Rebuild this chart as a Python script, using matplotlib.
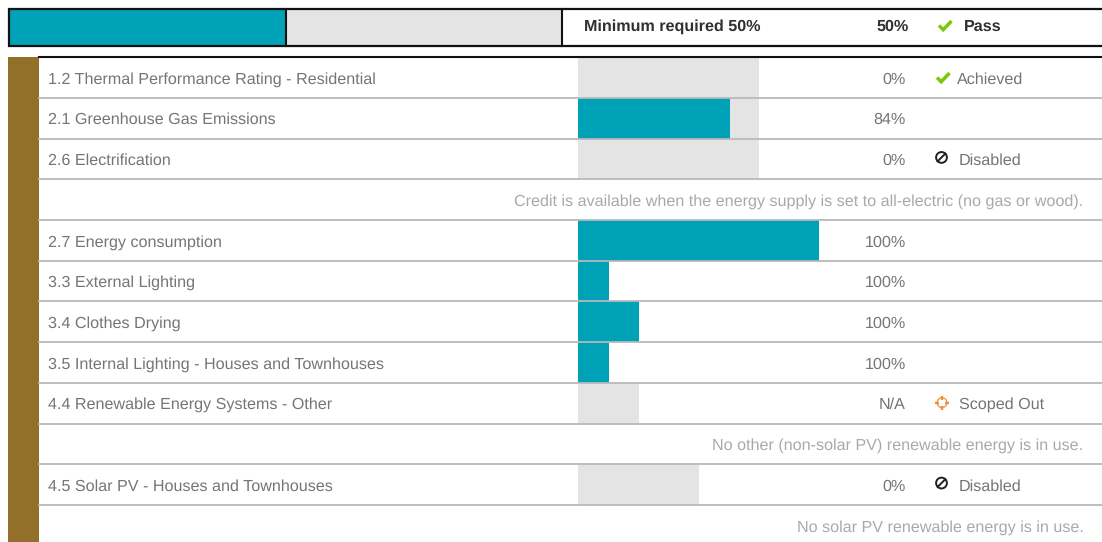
import numpy as np
import matplotlib
matplotlib.use("Agg")
import matplotlib.pyplot as plt
from matplotlib.patches import Rectangle, Circle

plt.rcParams['font.family'] = ['Liberation Sans', 'DejaVu Sans']
plt.rcParams['text.hinting'] = 'no_hinting'

# category summary
summary_text = "Minimum required 50%"
summary_score = 50
summary_status = "Pass"

# credits, in table order. None marks a text-only note row
labels = ["1.2 Thermal Performance Rating - Residential", "2.1 Greenhouse Gas Emissions",
          "2.6 Electrification", None, "2.7 Energy consumption", "3.3 External Lighting",
          "3.4 Clothes Drying", "3.5 Internal Lighting - Houses and Townhouses",
          "4.4 Renewable Energy Systems - Other", None,
          "4.5 Solar PV - Houses and Townhouses", None]
max_points = [6, 6, 6, 0, 8, 1, 2, 1, 2, 0, 4, 0]
scores = [0, 84, 0, None, 100, 100, 100, 100, None, None, 0, None]
score_text = ["0%", "84%", "0%", "", "100%", "100%", "100%", "100%", "N/A", "", "0%", ""]
status = ["Achieved", "", "Disabled", "", "", "", "", "", "Scoped Out", "", "Disabled", ""]
notes = ["", "", "", "Credit is available when the energy supply is set to all-electric (no gas or wood).",
         "", "", "", "", "", "No other (non-solar PV) renewable energy is in use.",
         "", "No solar PV renewable energy is in use."]

TEAL = "#00a2b8"
LIGHT = "#e4e4e4"
BROWN = "#93702a"
RULE = "#b9b9b9"
TEXT = "#757575"
NOTE = "#a9a9a9"
DARK = "#303030"
FS = 11.6

W, H = 1102, 542
fig = plt.figure(figsize=(W / 100, H / 100), dpi=100)
ax = fig.add_axes([0, 0, 1, 1])
ax.set_xlim(0, W)
ax.set_ylim(H, 0)
ax.axis("off")


def draw_check(x, y, color="#7ac70c"):
    ax.plot([x - 6, x - 1.8, x + 6.5], [y, y + 4.2, y - 4.5], color=color, lw=2.5,
            solid_capstyle="butt", solid_joinstyle="miter")


def draw_disabled(x, y):
    ax.add_patch(Circle((x, y), 5.4, fill=False, ec="#222222", lw=1.4))
    ax.plot([x - 3.8, x + 3.8], [y + 3.8, y - 3.8], color="#222222", lw=1.4)


def draw_scoped(x, y, color="#f0913a"):
    ax.add_patch(Circle((x, y), 4.9, fill=False, ec=color, lw=0.9))
    for dx, dy in [(1, 0), (-1, 0), (0, 1), (0, -1)]:
        ax.plot([x + dx * 3, x + dx * 7], [y + dy * 3, y + dy * 7], color=color, lw=1.7,
                solid_capstyle="butt")


# summary strip
box_top, box_bottom = 8.5, 45.5
ax.barh((box_top + box_bottom) / 2, 276, left=10, height=box_bottom - box_top, color=TEAL)
ax.barh((box_top + box_bottom) / 2, 276, left=286, height=box_bottom - box_top, color=LIGHT)
ax.plot([W, 9, 9, W], [box_top, box_top, box_bottom, box_bottom], color="#111111", lw=1.6,
        solid_joinstyle="miter")
for x in [285.5, 562]:
    ax.plot([x, x], [box_top, box_bottom], color="#111111", lw=1.5)
ax.text(584, 31, summary_text, fontsize=FS, fontweight="bold", color=DARK, va="baseline")
ax.text(908.5, 31, f"{summary_score}%", fontsize=FS, fontweight="bold", color=DARK, va="baseline", ha="right")
draw_check(945, 25.5)
ax.text(964, 31, summary_status, fontsize=FS, fontweight="bold", color=DARK, va="baseline")

# credit table
table_top = 57.2
row_h = 40.7
bar_left = 578
point_px = 30

ax.add_patch(Rectangle((8, table_top), 31, H - table_top, color=BROWN, lw=0))

for i, label in enumerate(labels):
    top = table_top + i * row_h
    mid = top + row_h / 2
    base = mid + 6.0
    if label is None:
        ax.text(1083.5, base, notes[i], fontsize=FS, color=NOTE, va="baseline", ha="right")
    else:
        full = max_points[i] * point_px + 1
        ax.barh(mid, full, left=bar_left, height=row_h, color=LIGHT, zorder=1)
        if scores[i]:
            ax.barh(mid, full * scores[i] / 100, left=bar_left, height=row_h, color=TEAL, zorder=1.5)
        ax.text(48, base, label, fontsize=FS, color=TEXT, va="baseline")
        ax.text(906, base, score_text[i], fontsize=FS, color=TEXT, va="baseline", ha="right")
        if status[i] == "Achieved":
            draw_check(943, mid)
            ax.text(956.5, base, status[i], fontsize=FS, color=TEXT, va="baseline")
        elif status[i] == "Disabled":
            draw_disabled(941.5, mid - 1.5)
            ax.text(959, base, status[i], fontsize=FS, color=TEXT, va="baseline")
        elif status[i] == "Scoped Out":
            draw_scoped(942, mid - 0.5)
            ax.text(959, base, status[i], fontsize=FS, color=TEXT, va="baseline")
    if i < len(labels) - 1:
        y = top + row_h
        ax.plot([39, W], [y, y], color=RULE, lw=1.3, zorder=2)

ax.plot([39, W], [table_top, table_top], color="#111111", lw=1.5, zorder=3)

fig.savefig("out.png", dpi=100)
